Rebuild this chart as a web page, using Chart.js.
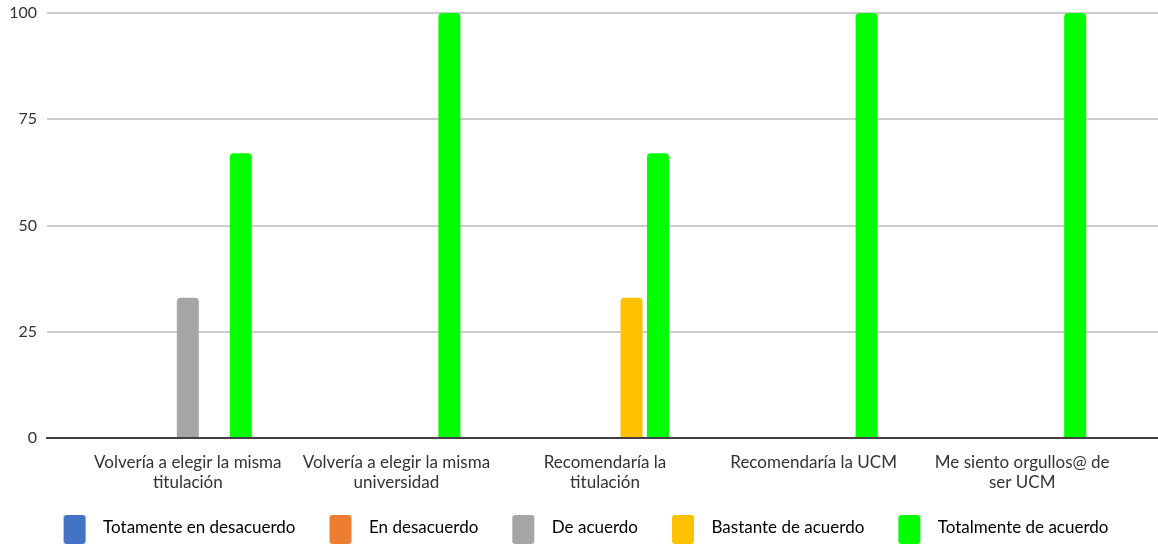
<!DOCTYPE html>
<html>
<head>
<meta charset="utf-8">
<script src="https://cdn.jsdelivr.net/npm/chart.js@4/dist/chart.umd.min.js"></script>
<style>
  html, body { margin: 0; padding: 0; background: #fff; }
  #chart { display: block; }
</style>
</head>
<body>
<canvas id="chart" width="1158" height="544"></canvas>
<script>
// Categories (two-line labels as in the original)
var categorias = [
    ['Volvería a elegir la misma', 'titulación'],
    ['Volvería a elegir la misma', 'universidad'],
    ['Recomendaría la', 'titulación'],
    'Recomendaría la UCM',
    ['Me siento orgullos@ de', 'ser UCM']
];

// Series values (%)
var totDesacuerdo = [0, 0, 0, 0, 0];
var enDesacuerdo = [0, 0, 0, 0, 0];
var deAcuerdo = [33, 0, 0, 0, 0];
var bastanteAcuerdo = [0, 0, 33, 0, 0];
var totalmenteAcuerdo = [67, 100, 67, 100, 100];

var yTicks = [0, 25, 50, 75, 100];

var fuente = "Lato, 'Open Sans', sans-serif";

// Legend swatch: blank room on the left (spacing to the previous item),
// rounded box, then a bit of blank room before the text
function legendBox(color) {
    var c = document.createElement('canvas');
    c.width = 45;
    c.height = 33;
    var g = c.getContext('2d');
    g.fillStyle = color;
    g.beginPath();
    g.roundRect(14, 4, 22, 29, 3);
    g.fill();
    return c;
}

var series = [
    { label: 'Totamente en desacuerdo', data: totDesacuerdo, color: '#4472C4' },
    { label: 'En desacuerdo', data: enDesacuerdo, color: '#ED7D31' },
    { label: 'De acuerdo', data: deAcuerdo, color: '#A5A5A5' },
    { label: 'Bastante de acuerdo', data: bastanteAcuerdo, color: '#FFC000' },
    { label: 'Totalmente de acuerdo', data: totalmenteAcuerdo, color: '#00FF00' }
];

var ctx = document.getElementById('chart').getContext('2d');
var grafico = new Chart(ctx, {
    type: 'bar',
    data: {
        labels: categorias,
        datasets: series.map(function (s) {
            return {
                label: s.label,
                data: s.data,
                backgroundColor: s.color,
                borderRadius: { topLeft: 4, topRight: 4 },
                borderSkipped: 'bottom',
                categoryPercentage: 0.635,
                barPercentage: 0.83
            };
        })
    },
    options: {
        responsive: false,
        animation: false,
        layout: { padding: { top: 13, right: 0, left: 0, bottom: -2 } },
        plugins: {
            tooltip: { enabled: false },
            legend: {
                position: 'bottom',
                labels: {
                    font: { family: fuente, size: 17 },
                    color: '#333333',
                    usePointStyle: true,
                    pointStyleWidth: 45,
                    padding: 20,
                    generateLabels: function (chart) {
                        return chart.data.datasets.map(function (ds, i) {
                            return {
                                text: ds.label,
                                pointStyle: legendBox(ds.backgroundColor),
                                fillStyle: ds.backgroundColor,
                                strokeStyle: ds.backgroundColor,
                                lineWidth: 0,
                                hidden: false,
                                datasetIndex: i
                            };
                        });
                    }
                }
            }
        },
        scales: {
            x: {
                grid: { display: false },
                border: { display: true, color: '#404040', width: 2 },
                ticks: {
                    font: { family: fuente, size: 17, lineHeight: 1.2 },
                    color: '#333333',
                    padding: 6,
                    maxRotation: 0,
                    autoSkip: false
                },
                // leave a little empty room at both ends of the category axis
                afterBuildTicks: function (s) {
                    s._startValue -= 0.175;
                    s._valueRange += 0.326;
                },
                afterFit: function (s) { s.height = 61; }
            },
            y: {
                min: 0,
                max: 100,
                afterBuildTicks: function (s) {
                    s.ticks = yTicks.map(function (v) { return { value: v }; });
                },
                grid: { color: '#cccccc', lineWidth: 2, drawTicks: false },
                border: { display: false },
                ticks: {
                    font: { family: fuente, size: 16 },
                    color: '#333333',
                    padding: 10
                },
                afterFit: function (s) {
                    s.width = 47;
                    s.paddingTop = 0;
                }
            }
        }
    }
});
</script>
</body>
</html>
